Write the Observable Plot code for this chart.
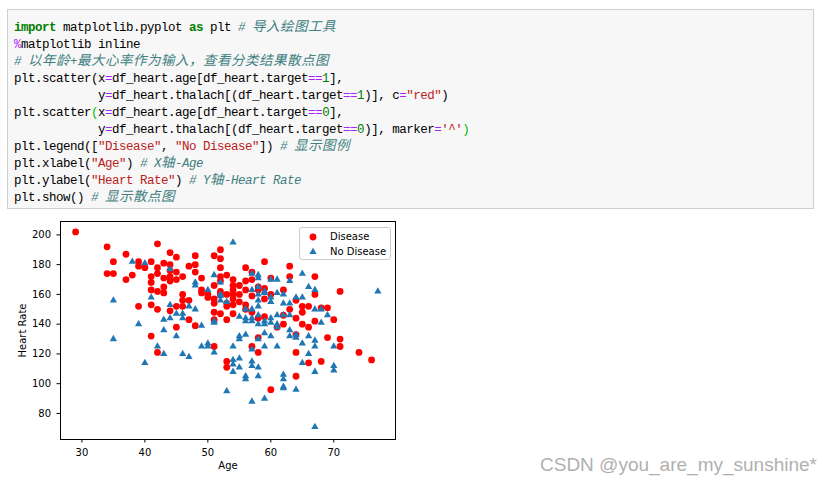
<!DOCTYPE html>
<html>
<head>
<meta charset="utf-8">
<script src="https://cdn.jsdelivr.net/npm/d3@7"></script>
<script src="https://cdn.jsdelivr.net/npm/@observablehq/plot@0.6"></script>
<style>
  html, body { margin: 0; padding: 0; background: #fff; width: 829px; height: 484px; overflow: hidden; position: relative; }
  #code {
    position: absolute; left: 7px; top: 9px; width: 793px; height: 188px;
    border: 1px solid #cfcfcf; background: #f7f7f7;
    padding: 10px 6px 0 6px; margin: 0;
    font-family: "Liberation Mono", "DejaVu Sans Mono", monospace;
    font-size: 12.5px; letter-spacing: -0.5px; line-height: 17px; color: #000;
    white-space: pre; overflow: hidden;
  }
  #code .k { color: #008000; font-weight: bold; }
  #code .c { color: #408080; font-style: italic; }
  #code .o { color: #AA22FF; }
  #code .n { color: #008000; }
  #code .s { color: #BA2121; }
  #code .m { color: #00bb00; }
  #code .z { font-family: "Noto Sans CJK SC", sans-serif; font-size: 13.5px; letter-spacing: 0.5px; line-height: 0; }
  #chart { position: absolute; left: 0; top: 215px; }
  #legend { position: absolute; left: 299px; top: 227px; width: 90px; height: 31px;
    border: 1px solid #cccccc; border-radius: 3px; background: rgba(255,255,255,0.8); }
  #legend .row { position: absolute; left: 0; height: 14px; width: 90px;
    font-family: "DejaVu Sans", sans-serif; font-size: 10px; line-height: 14px; color: #000; }
  #legend .row svg { position: absolute; left: 8px; top: 0; }
  #legend .row span { position: absolute; left: 30px; top: 0; }
  #wm { position: absolute; left: 540px; top: 455px; font-family: "Liberation Sans", Arial, sans-serif;
    font-size: 19px; line-height: 19px; color: #b0b0b0; white-space: nowrap; }
</style>
</head>
<body>
<pre id="code"><span class="k">import</span> matplotlib.pyplot <span class="k">as</span> plt <span class="c"># <span class="z">导入绘图工具</span></span>
<span class="o">%</span>matplotlib inline
<span class="c"># <span class="z">以年龄</span>+<span class="z">最大心率作为输入，查看分类结果散点图</span></span>
plt.scatter(x<span class="o">=</span>df_heart.age[df_heart.target<span class="o">==</span><span class="n">1</span>],
            y<span class="o">=</span>df_heart.thalach[(df_heart.target<span class="o">==</span><span class="n">1</span>)], c<span class="o">=</span><span class="s">"red"</span>)
plt.scatter<span class="m">(</span>x<span class="o">=</span>df_heart.age[df_heart.target<span class="o">==</span><span class="n">0</span>],
            y<span class="o">=</span>df_heart.thalach[(df_heart.target<span class="o">==</span><span class="n">0</span>)], marker<span class="o">=</span><span class="s">'^'</span><span class="m">)</span>
plt.legend([<span class="s">"Disease"</span>, <span class="s">"No Disease"</span>]) <span class="c"># <span class="z">显示图例</span></span>
plt.xlabel(<span class="s">"Age"</span>) <span class="c"># X<span class="z">轴</span>-Age</span>
plt.ylabel(<span class="s">"Heart Rate"</span>) <span class="c"># Y<span class="z">轴</span>-Heart Rate</span>
plt.show() <span class="c"># <span class="z">显示散点图</span></span></pre>
<div id="chart"></div>
<div id="legend"></div>
<div id="wm">CSDN @you_are_my_sunshine*</div>
<script>
// ---- data ----
const diseaseAge = [
  29,
  34, 34,
  35, 35,
  37, 37,
  38,
  39, 39, 39,
  40,
  41, 41, 41, 41, 41, 41,
  42, 42, 42, 42, 42, 42,
  43, 43, 43, 43,
  44, 44, 44, 44, 44, 44,
  45, 45, 45, 45, 45,
  46, 46, 46, 46,
  47, 47, 47,
  48, 48, 48, 48,
  49, 49, 49,
  50, 50,
  51, 51, 51, 51, 51, 51, 51,
  52, 52, 52, 52, 52, 52, 52, 52,
  53, 53, 53, 53, 53, 53, 53,
  54, 54, 54, 54, 54, 54, 54,
  55, 55, 55,
  56, 56, 56, 56, 56,
  57, 57, 57, 57, 57,
  58, 58, 58, 58, 58,
  59, 59, 59, 59,
  60, 60, 60,
  61,
  62, 62, 62,
  63, 63, 63,
  64, 64, 64, 64, 64,
  65, 65, 65,
  66, 66, 66,
  67, 67, 67,
  68, 68,
  69, 69,
  70,
  71, 71, 71,
  74,
  76
];
const diseaseRate = [
  202,
  192, 174,
  182, 174,
  187, 170,
  173,
  182, 179, 152,
  178,
  182, 172, 168, 163, 153, 132,
  194, 178, 174, 162, 150, 121,
  181, 171, 165, 161,
  188, 180, 176, 172, 169, 149,
  185, 175, 170, 152, 138,
  172, 160, 156, 152,
  179, 156, 143,
  186, 180, 175, 139,
  171, 163, 161,
  160, 158,
  186, 166, 157, 154, 148, 143, 125,
  190, 184, 178, 172, 169, 162, 160, 147,
  173, 160, 154, 152, 143, 115, 111,
  170, 166, 163, 160, 157, 153, 147,
  166, 160, 155,
  178, 169, 163, 153, 150,
  175, 170, 159, 148, 125,
  165, 163, 144, 131, 121,
  182, 164, 157, 145,
  171, 160, 96,
  138,
  163, 146, 140,
  179, 172, 150,
  156, 144, 133, 121, 105,
  152, 148, 140,
  152, 138, 114,
  172, 160, 142,
  151, 115,
  151, 131,
  143,
  162, 130, 125,
  121,
  116
];
const noDiseaseAge = [
  35, 35,
  38,
  39,
  40, 40,
  41,
  42,
  43, 43, 43,
  44, 44, 44,
  45, 45,
  46, 46, 46,
  47, 47,
  48, 48, 48,
  49, 49,
  50, 50, 50,
  51, 51, 51, 51,
  52, 52, 52, 52,
  53, 53,
  54, 54, 54, 54, 54,
  55, 55, 55, 55, 55,
  56, 56, 56, 56, 56, 56,
  57, 57, 57, 57, 57, 57, 57, 57, 57,
  58, 58, 58, 58, 58, 58, 58, 58, 58, 58, 58,
  59, 59, 59, 59, 59, 59, 59,
  60, 60, 60, 60, 60, 60,
  61, 61, 61, 61, 61, 61,
  62, 62, 62, 62, 62, 62, 62,
  63, 63, 63, 63, 63,
  64, 64, 64, 64,
  65, 65, 65, 65,
  66, 66, 66,
  67, 67, 67, 67, 67, 67,
  68, 68,
  69,
  70, 70, 70,
  77
];
const noDiseaseRate = [
  156, 130,
  182,
  140,
  181, 114,
  158,
  125,
  143, 136, 120,
  177, 153, 144,
  147, 132,
  147, 144, 120,
  152, 118,
  168, 166, 150,
  139, 125,
  163, 127, 125,
  173, 142, 141, 121,
  168, 160, 159, 156,
  155, 95,
  195, 125, 116, 113, 108,
  145, 132, 130, 117, 111,
  150, 144, 142, 133, 105, 103,
  174, 163, 150, 144, 142, 123, 115, 112, 88,
  173, 171, 165, 160, 156, 152, 146, 140, 130, 111, 105,
  162, 161, 142, 140, 134, 125, 90,
  170, 158, 155, 144, 141, 132,
  170, 161, 146, 140, 138, 125,
  160, 154, 146, 106, 103, 98, 97,
  169, 154, 146, 136, 132,
  158, 133, 131, 96,
  174, 158, 127, 114,
  165, 132, 120,
  163, 150, 129, 125, 108, 71,
  150, 141,
  146,
  125, 112, 109,
  162
];
const xTicks = [30, 40, 50, 60, 70];
const yTicks = [80, 100, 120, 140, 160, 180, 200];
const seriesNames = ["Disease", "No Disease"];
const seriesColors = ["#ff0000", "#1f77b4"];

const disease = diseaseAge.map((a, i) => ({age: a, rate: diseaseRate[i]}));
const noDisease = noDiseaseAge.map((a, i) => ({age: a, rate: noDiseaseRate[i]}));

const chart = Plot.plot({
  width: 420,
  height: 260,
  marginLeft: 60,
  marginRight: 25,
  marginTop: 6,
  marginBottom: 36,
  style: {fontFamily: "DejaVu Sans", fontSize: "10px", color: "#000", background: "transparent"},
  x: {domain: [26.6, 79.8]},
  y: {domain: [62.5, 209]},
  marks: [
    Plot.dot(disease, {x: "age", y: "rate", r: 3.4, fill: seriesColors[0], stroke: null}),
    Plot.dot(noDisease, {x: "age", y: "rate", r: 2.7, symbol: "triangle", fill: seriesColors[1], stroke: null}),
    Plot.frame({stroke: "#000", strokeWidth: 1}),
    Plot.axisX(xTicks, {tickSize: 3.5, tickPadding: 6, label: "Age", labelAnchor: "center", labelArrow: "none", labelOffset: 29}),
    Plot.axisY(yTicks, {tickSize: 3.5, tickPadding: 6, label: "Heart Rate", labelAnchor: "center", labelArrow: "none", labelOffset: 42})
  ]
});
document.getElementById("chart").appendChild(chart);

// legend
const legend = document.getElementById("legend");
seriesNames.forEach((name, i) => {
  const row = document.createElement("div");
  row.className = "row";
  row.style.top = (2 + i * 14.6) + "px";
  const sym = i === 0
    ? `<svg width="12" height="14"><circle cx="5" cy="7" r="3.4" fill="${seriesColors[i]}"/></svg>`
    : `<svg width="12" height="14"><path d="${d3.symbol(d3.symbolTriangle, 2.7 * 2.7 * Math.PI)()}" transform="translate(5,7)" fill="${seriesColors[i]}"/></svg>`;
  row.innerHTML = sym + `<span>${name}</span>`;
  legend.appendChild(row);
});
</script>
</body>
</html>
